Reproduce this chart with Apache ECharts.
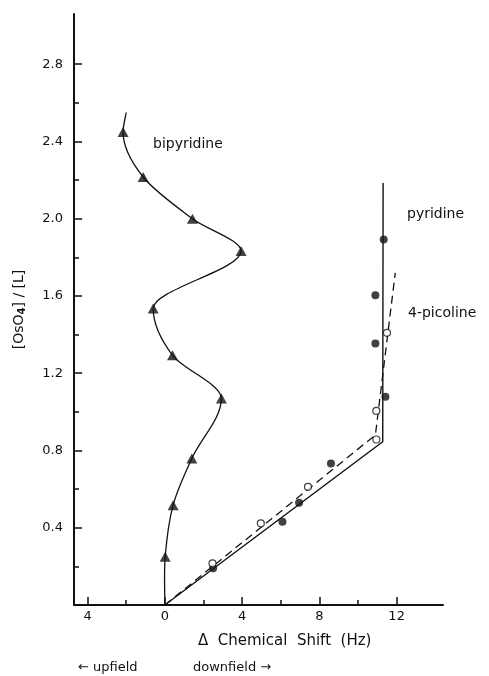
<!DOCTYPE html>
<html>
<head>
<meta charset="utf-8">
<script src="https://cdn.jsdelivr.net/npm/echarts@6/dist/echarts.min.js"></script>
<style>
  html, body { margin: 0; padding: 0; background: #fff; }
  #chart { width: 489px; height: 676px; }
</style>
</head>
<body>
<div id="chart"></div>
<script>
// Bipyridine: shift (Hz) vs mole ratio, joined by a smooth curve
const bipyX = [0.02, 0.43, 1.40, 2.93, 0.40, -0.60, 3.95, 1.43, -1.12, -2.16];
const bipyY = [0.25, 0.517, 0.759, 1.069, 1.293, 1.535, 1.833, 2.00, 2.216, 2.449];
const bipyCurveStart = [0, 0];
const bipyCurveEnd = [-2.0, 2.55];

// Pyridine (filled circles) and its two-segment fit
const pyX = [2.5, 6.09, 6.95, 8.6, 11.42, 10.9, 10.9, 11.33];
const pyY = [0.19, 0.431, 0.529, 0.733, 1.078, 1.354, 1.604, 1.892];
const pyFitX = [0, 11.28, 11.3];
const pyFitY = [0, 0.845, 2.185];

// 4-Picoline (open circles) and its dashed fit
const picX = [2.47, 4.97, 7.41, 10.95, 10.95, 11.5];
const picY = [0.216, 0.423, 0.612, 0.857, 1.005, 1.409];
const picFitX = [0, 10.9, 11.93];
const picFitY = [0, 0.88, 1.72];

// Axis ticks
const xMajor = [-4, 0, 4, 8, 12];
const xMinor = [-2, 2, 6, 10];
const yMajor = [0.4, 0.8, 1.2, 1.6, 2.0, 2.4, 2.8];
const yMinor = [0.2, 0.6, 1.0, 1.4, 1.8, 2.2, 2.6];

const zip = (xs, ys) => xs.map((x, i) => [x, ys[i]]);
const FONT = 'DejaVu Sans';
const INK = '#111';

const bipyPts = zip(bipyX, bipyY);
const bipyCurve = [bipyCurveStart].concat(bipyPts, [bipyCurveEnd]);

// Slopes dx/dy for a smooth x(y) curve: centred differences,
// flattened to zero where the shift turns back (local extremes).
function curveSlopes(pts) {
  const n = pts.length;
  return pts.map((p, i) => {
    if (i === 0) return (pts[1][0] - p[0]) / (pts[1][1] - p[1]);
    if (i === n - 1) return (p[0] - pts[i - 1][0]) / (p[1] - pts[i - 1][1]);
    const a = pts[i - 1], b = pts[i + 1];
    const d0 = p[0] - a[0], d1 = b[0] - p[0];
    if (d0 * d1 <= 0) return 0;
    return (b[0] - a[0]) / (b[1] - a[1]);
  });
}

function renderCurve(params, api) {
  if (params.dataIndex !== 0) return null;
  const pts = bipyCurve;
  const m = curveSlopes(pts);
  const children = [];
  for (let i = 0; i < pts.length - 1; i++) {
    const a = pts[i], b = pts[i + 1];
    const h = (b[1] - a[1]) / 3;
    const p0 = api.coord(a);
    const p1 = api.coord(b);
    const c0 = api.coord([a[0] + m[i] * h, a[1] + h]);
    const c1 = api.coord([b[0] - m[i + 1] * h, b[1] - h]);
    children.push({
      type: 'bezierCurve',
      shape: { x1: p0[0], y1: p0[1], x2: p1[0], y2: p1[1], cpx1: c0[0], cpy1: c0[1], cpx2: c1[0], cpy2: c1[1] },
      style: { stroke: INK, lineWidth: 1.3, fill: 'none' }
    });
  }
  return { type: 'group', children };
}

const chart = echarts.init(document.getElementById('chart'), null, { renderer: 'canvas' });

const gridBox = { left: 74, top: 14, right: 46, bottom: 71 };
const xRange = { min: -4.7, max: 14.4 };
const yRange = { min: 0, max: 3.06 };

chart.setOption({
  backgroundColor: '#fff',
  animation: false,
  grid: Object.assign({ containLabel: false }, gridBox),
  xAxis: [
    {
      type: 'value', min: xRange.min, max: xRange.max,
      axisLine: { show: true, onZero: false, lineStyle: { color: INK, width: 2 } },
      axisTick: { show: true, inside: true, length: 8, customValues: xMajor, lineStyle: { color: INK, width: 1.5 } },
      axisLabel: {
        show: true, customValues: xMajor, margin: 5,
        formatter: v => String(Math.abs(v)),
        fontFamily: FONT, fontSize: 13, color: INK
      },
      splitLine: { show: false }
    },
    {
      type: 'value', min: xRange.min, max: xRange.max, position: 'bottom',
      axisLine: { show: false, onZero: false },
      axisTick: { show: true, inside: true, length: 5, customValues: xMinor, lineStyle: { color: INK, width: 1.5 } },
      axisLabel: { show: false },
      splitLine: { show: false }
    }
  ],
  yAxis: [
    {
      type: 'value', min: yRange.min, max: yRange.max,
      axisLine: { show: true, onZero: false, lineStyle: { color: INK, width: 2 } },
      axisTick: { show: true, inside: true, length: 8, customValues: yMajor, lineStyle: { color: INK, width: 1.5 } },
      axisLabel: {
        show: true, customValues: yMajor, margin: 11,
        formatter: v => v.toFixed(1),
        fontFamily: FONT, fontSize: 13, color: INK
      },
      splitLine: { show: false },
      name: '[OsO{sub|4}] / [L]',
      nameLocation: 'middle',
      nameRotate: 90,
      nameGap: 47,
      nameTextStyle: {
        fontFamily: FONT, fontSize: 14, color: INK,
        rich: { sub: { fontFamily: FONT, fontSize: 10, color: INK, fontWeight: 'bold', verticalAlign: 'bottom', padding: [6, 0, 0, 0] } }
      }
    },
    {
      type: 'value', min: yRange.min, max: yRange.max, position: 'left',
      axisLine: { show: false, onZero: false },
      axisTick: { show: true, inside: true, length: 5, customValues: yMinor, lineStyle: { color: INK, width: 1.5 } },
      axisLabel: { show: false },
      splitLine: { show: false }
    }
  ],
  series: [
    {
      name: 'bipyridine curve', type: 'custom', coordinateSystem: 'cartesian2d',
      data: bipyCurve, encode: { x: 0, y: 1 },
      renderItem: renderCurve, z: 2
    },
    {
      name: 'bipyridine', type: 'scatter', data: bipyPts,
      symbol: 'triangle', symbolSize: [11, 10],
      itemStyle: { color: INK }, z: 5
    },
    {
      name: 'pyridine fit', type: 'line', data: zip(pyFitX, pyFitY),
      showSymbol: false, symbol: 'none',
      lineStyle: { color: INK, width: 1.4 }, z: 2
    },
    {
      name: '4-picoline fit', type: 'line', data: zip(picFitX, picFitY),
      showSymbol: false, symbol: 'none',
      lineStyle: { color: INK, width: 1.3, type: [8, 5] }, z: 2
    },
    {
      name: 'pyridine', type: 'scatter', data: zip(pyX, pyY),
      symbol: 'circle', symbolSize: 8,
      itemStyle: { color: INK }, z: 5
    },
    {
      name: '4-picoline', type: 'scatter', data: zip(picX, picY),
      symbol: 'circle', symbolSize: 7,
      itemStyle: { color: '#fff', borderColor: INK, borderWidth: 1.2 }, z: 6
    }
  ],
  graphic: [
    { type: 'text', left: 153, top: 137, style: { text: 'bipyridine', font: '14px "DejaVu Sans"', fill: INK } },
    { type: 'text', left: 407, top: 207, style: { text: 'pyridine', font: '14px "DejaVu Sans"', fill: INK } },
    { type: 'text', left: 408, top: 306, style: { text: '4-picoline', font: '14px "DejaVu Sans"', fill: INK } },
    { type: 'text', left: 198, top: 634, style: { text: '\u0394  Chemical  Shift  (Hz)', font: '15px "DejaVu Sans"', fill: INK } },
    { type: 'text', left: 78, top: 661, style: { text: '\u2190 upfield', font: '13px "DejaVu Sans"', fill: INK } },
    { type: 'text', left: 193, top: 661, style: { text: 'downfield \u2192', font: '13px "DejaVu Sans"', fill: INK } }
  ]
});
</script>
</body>
</html>
